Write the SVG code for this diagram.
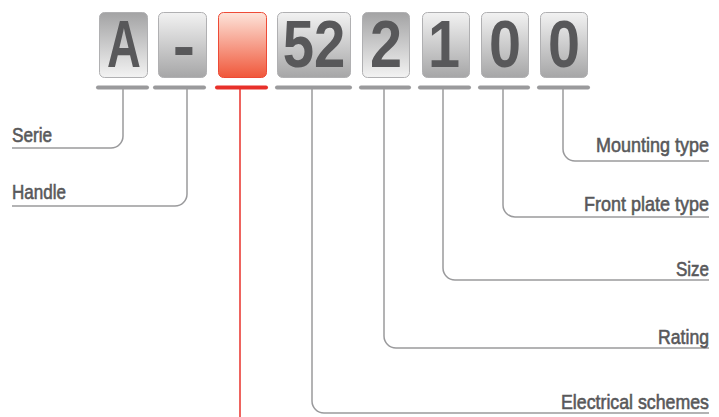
<svg xmlns="http://www.w3.org/2000/svg" width="719" height="417" viewBox="0 0 719 417">
<defs>
<linearGradient id="gDark" x1="0" y1="0" x2="0" y2="1"><stop offset="0" stop-color="#a3a3a4"/><stop offset="1" stop-color="#f3f3f3"/></linearGradient>
<linearGradient id="gLight" x1="0" y1="0" x2="0" y2="1"><stop offset="0" stop-color="#f2f2f2"/><stop offset="1" stop-color="#a6a6a7"/></linearGradient>
<linearGradient id="gRed" x1="0" y1="0" x2="0" y2="1"><stop offset="0" stop-color="#fde4da"/><stop offset="1" stop-color="#f0573a"/></linearGradient>
<style>
.box{stroke:#b0b0b2;stroke-width:1}
.red{stroke:#ee4a36;stroke-width:1}
.dig{font-family:"Liberation Sans",Arial,sans-serif;font-size:67px;font-weight:bold;fill:#58585a;text-anchor:middle}
.bar{stroke:#9a9a9c;stroke-width:4;stroke-linecap:round}
.rbar{stroke:#e8302a;stroke-width:4;stroke-linecap:round}
.ln{fill:none;stroke:#9a9a9c;stroke-width:1.5}
.rln{fill:none;stroke:#e8302a;stroke-width:1.5}
.lbl{font-family:"Liberation Sans",Arial,sans-serif;font-size:21px;fill:#58585a;stroke:#58585a;stroke-width:0.6}
.r{text-anchor:end}
</style>
</defs>
<rect width="719" height="417" fill="#ffffff"/>
<g id="box-A"><rect class="box" x="99.5" y="12.5" width="48" height="65" rx="5" fill="url(#gDark)"/><text class="dig" transform="translate(124,67) scale(0.7,1)">A</text><line class="bar" x1="98" y1="87.5" x2="147" y2="87.5"/></g>
<g id="box-dash"><rect class="box" x="158.5" y="12.5" width="48" height="65" rx="5" fill="url(#gLight)"/><text class="dig" x="184" y="68">-</text><line class="bar" x1="155" y1="87.5" x2="204" y2="87.5"/></g>
<g id="box-red"><rect class="red" x="218.5" y="12.5" width="48" height="65" rx="5" fill="url(#gRed)"/><line class="rbar" x1="217" y1="87.5" x2="266" y2="87.5"/></g>
<g id="box-52"><rect class="box" x="277.5" y="12.5" width="73" height="65" rx="5" fill="url(#gLight)"/><text class="dig" transform="translate(314,67) scale(0.84,1)">52</text><line class="bar" x1="277" y1="87.5" x2="350" y2="87.5"/></g>
<g id="box-2"><rect class="box" x="362.5" y="12.5" width="47" height="65" rx="5" fill="url(#gDark)"/><text class="dig" transform="translate(386,67) scale(0.86,1)">2</text><line class="bar" x1="361" y1="87.5" x2="409" y2="87.5"/></g>
<g id="box-1"><rect class="box" x="422.5" y="12.5" width="47" height="65" rx="5" fill="url(#gLight)"/><text class="dig" transform="translate(444,67) scale(0.86,1)">1</text><line class="bar" x1="420" y1="87.5" x2="469" y2="87.5"/></g>
<g id="box-0a"><rect class="box" x="481.5" y="12.5" width="47" height="65" rx="5" fill="url(#gLight)"/><text class="dig" transform="translate(505,67) scale(0.86,1)">0</text><line class="bar" x1="480" y1="87.5" x2="528" y2="87.5"/></g>
<g id="box-0b"><rect class="box" x="540.5" y="12.5" width="47" height="65" rx="5" fill="url(#gLight)"/><text class="dig" transform="translate(564,67) scale(0.86,1)">0</text><line class="bar" x1="539" y1="87.5" x2="588" y2="87.5"/></g>
<g id="connectors">
<path class="ln" d="M123,89 V136 A12,12 0 0 1 111,148 H12"/>
<path class="ln" d="M187,89 V194 A12,12 0 0 1 175,206 H12"/>
<path class="rln" d="M240,89 V417"/>
<path class="ln" d="M312,89 V401 A12,12 0 0 0 324,413 H709"/>
<path class="ln" d="M384,89 V336 A12,12 0 0 0 396,348 H709"/>
<path class="ln" d="M443,89 V268 A12,12 0 0 0 455,280 H709"/>
<path class="ln" d="M503,89 V205 A12,12 0 0 0 515,217 H709"/>
<path class="ln" d="M563,89 V149 A12,12 0 0 0 575,161 H709"/>
</g>
<g id="labels">
<text class="lbl" transform="translate(12,142) scale(0.82,1)">Serie</text>
<text class="lbl" transform="translate(12,199) scale(0.81,1)">Handle</text>
<text class="lbl r" transform="translate(709,152) scale(0.857,1)">Mounting type</text>
<text class="lbl r" transform="translate(709,211) scale(0.857,1)">Front plate type</text>
<text class="lbl r" transform="translate(709,276) scale(0.81,1)">Size</text>
<text class="lbl r" transform="translate(709,344) scale(0.84,1)">Rating</text>
<text class="lbl r" transform="translate(709,409) scale(0.846,1)">Electrical schemes</text>
</g>
</svg>
